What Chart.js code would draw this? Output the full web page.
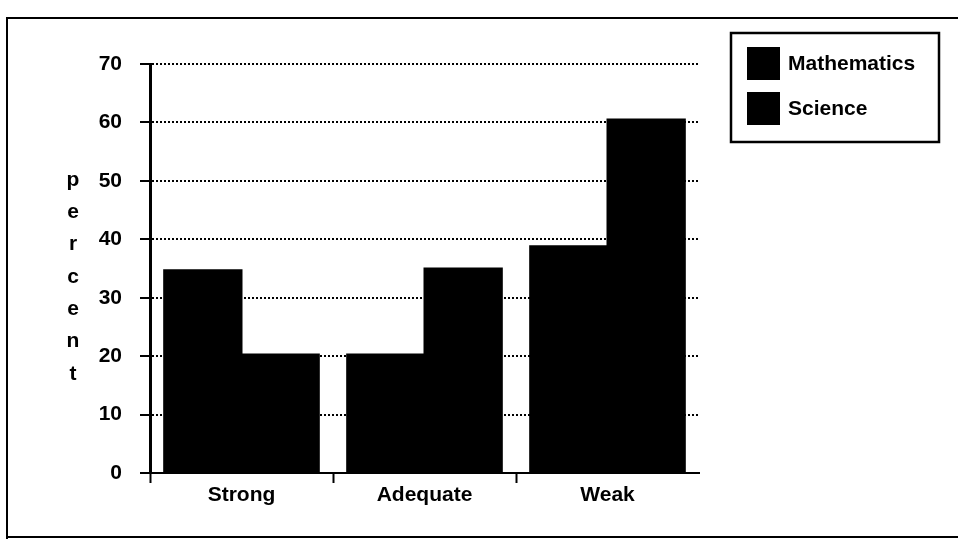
<!DOCTYPE html>
<html>
<head>
<meta charset="utf-8">
<script src="https://cdn.jsdelivr.net/npm/chart.js@4.4.1/dist/chart.umd.min.js"></script>
<style>
  html, body { margin: 0; padding: 0; background: #fff; }
  #wrap { position: relative; width: 958px; height: 539px; }
</style>
</head>
<body>
<div id="wrap"><canvas id="chart"></canvas></div>
<script>
// Ratings by subject (percent of programs)
const categories = ['Strong', 'Adequate', 'Weak'];
const mathematics = [34.7, 20.3, 38.8];
const science = [20.3, 35.0, 60.5];
const seriesNames = ['Mathematics', 'Science'];
const yTicks = [0, 10, 20, 30, 40, 50, 60, 70];
const yTitle = 'percent';

const FAMILY = "'Liberation Sans', Arial, Helvetica, sans-serif";
const FONT = { family: FAMILY, size: 21, weight: 'bold' };
const FONT_CSS = 'bold 21px ' + FAMILY;

// Page frame drawn behind everything
const framePlugin = {
  id: 'frame',
  beforeDraw(chart) {
    const ctx = chart.ctx;
    ctx.save();
    ctx.fillStyle = '#fff';
    ctx.fillRect(0, 0, chart.width, chart.height);
    ctx.strokeStyle = '#000';
    ctx.lineWidth = 2;
    ctx.beginPath();
    ctx.moveTo(7, chart.height);
    ctx.lineTo(7, 18);
    ctx.lineTo(chart.width, 18);
    ctx.moveTo(7, 537);
    ctx.lineTo(chart.width, 537);
    ctx.stroke();
    ctx.restore();
  }
};

// Vertical, letter-by-letter axis title
const stackedTitle = {
  id: 'stackedTitle',
  afterDraw(chart) {
    const ctx = chart.ctx;
    ctx.save();
    ctx.font = FONT_CSS;
    ctx.fillStyle = '#000';
    ctx.textAlign = 'center';
    ctx.textBaseline = 'middle';
    const letters = yTitle.split('');
    letters.forEach((ch, i) => ctx.fillText(ch, 73, 180 + i * 32.3));
    ctx.restore();
  }
};

// Boxed legend in the upper right
const boxLegend = {
  id: 'boxLegend',
  afterDraw(chart) {
    const ctx = chart.ctx;
    ctx.save();
    ctx.strokeStyle = '#000';
    ctx.lineWidth = 2.5;
    ctx.strokeRect(731, 33, 208, 109);
    ctx.font = FONT_CSS;
    ctx.textBaseline = 'middle';
    ctx.textAlign = 'left';
    chart.data.datasets.forEach((ds, i) => {
      const y = 47 + i * 45;
      ctx.fillStyle = ds.backgroundColor;
      ctx.fillRect(747, y, 33, 33);
      ctx.fillStyle = '#000';
      ctx.fillText(ds.label, 788, y + 17);
    });
    ctx.restore();
  }
};

new Chart(document.getElementById('chart'), {
  type: 'bar',
  data: {
    labels: categories,
    datasets: [
      { label: seriesNames[0], data: mathematics, backgroundColor: '#000', borderWidth: 0, inflateAmount: 1 },
      { label: seriesNames[1], data: science, backgroundColor: '#000', borderWidth: 0, inflateAmount: 1 }
    ]
  },
  options: {
    responsive: true,
    maintainAspectRatio: false,
    devicePixelRatio: 1,
    animation: false,
    layout: { padding: { left: 90, right: 259, top: 64, bottom: 26 } },
    datasets: { bar: { categoryPercentage: 0.845, barPercentage: 1.0 } },
    plugins: {
      legend: { display: false },
      tooltip: { enabled: false }
    },
    scales: {
      x: {
        offset: true,
        grid: {
          display: true,
          drawOnChartArea: false,
          drawTicks: true,
          tickLength: 10,
          tickWidth: 2,
          tickColor: (c) => (c.tick ? '#000' : 'rgba(0,0,0,0)')
        },
        border: { display: true, color: '#000', width: 2 },
        ticks: { color: '#000', font: FONT, padding: 0, maxRotation: 0 },
        afterFit(scale) { scale.height = 40; }
      },
      y: {
        min: yTicks[0],
        max: yTicks[yTicks.length - 1],
        grid: {
          color: '#000',
          lineWidth: 2,
          drawTicks: true,
          tickLength: 10,
          tickWidth: 2,
          tickColor: '#000',
          tickBorderDash: []
        },
        border: { display: true, color: '#000', width: 3, dash: [2, 2] },
        ticks: {
          stepSize: yTicks[1] - yTicks[0],
          color: '#000',
          font: FONT,
          padding: 18
        },
        afterFit(scale) { scale.width = 60; }
      }
    }
  },
  plugins: [framePlugin, stackedTitle, boxLegend]
});
</script>
</body>
</html>
